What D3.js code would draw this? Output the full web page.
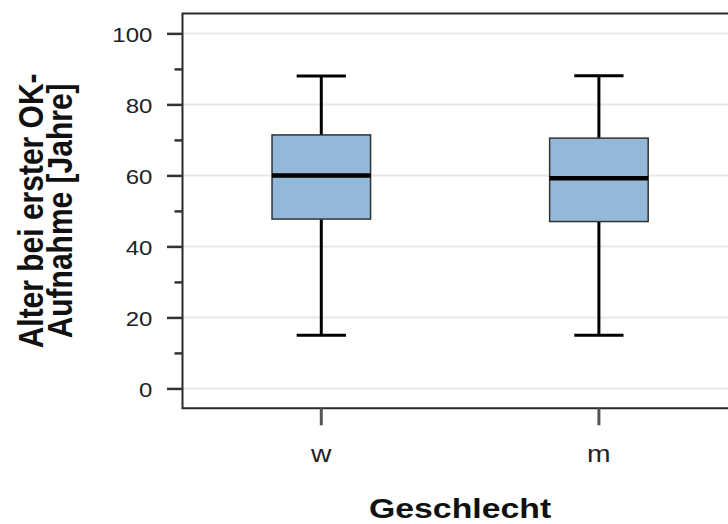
<!DOCTYPE html>
<html>
<head>
<meta charset="utf-8">
<script src="https://cdn.jsdelivr.net/npm/d3@7"></script>
<style>
  html, body { margin: 0; padding: 0; background: #fff; }
  svg { display: block; }
</style>
</head>
<body>
<svg id="chart" width="728" height="524"></svg>
<script>
// ---- data ----
const categories = ["w", "m"];
const whiskerLow = [15.0, 15.0];
const q1 = [47.7, 47.0];
const median = [60.0, 59.2];
const q3 = [71.4, 70.5];
const whiskerHigh = [88.0, 88.1];
const yTicks = [0, 20, 40, 60, 80, 100];
const yMinorTicks = [10, 30, 50, 70, 90];
const xTitle = "Geschlecht";
const yTitleLines = ["Alter bei erster OK-", "Aufnahme [Jahre]"];

(function () {
// ---- layout ----
const SX = 1.23; // horizontal stretch of glyphs
const pLeft = 182.5, pRight = 737.7, pTop = 13.5, pBottom = 408.3;
const svg = d3.select("#chart");

const y = d3.scaleLinear().domain([-5.6, 105.6]).range([pBottom, pTop]);
const x = d3.scaleBand().domain(categories).range([pLeft, pRight]).padding(0);

// gridlines
svg.append("g").selectAll("line").data(yTicks).join("line")
  .attr("x1", pLeft).attr("x2", 728)
  .attr("y1", d => y(d)).attr("y2", d => y(d))
  .attr("stroke", "#e8e8e8").attr("stroke-width", 2);

// boxes
const data = categories.map((c, i) => ({
  c, lo: whiskerLow[i], q1: q1[i], med: median[i], q3: q3[i], hi: whiskerHigh[i]
}));
const bw = x.bandwidth() * 0.355;
const cw = bw * 0.5;
const g = svg.append("g").selectAll("g").data(data).join("g")
  .attr("transform", d => `translate(${x(d.c) + x.bandwidth() / 2},0)`);

g.append("line").attr("x1", 0).attr("x2", 0)
  .attr("y1", d => y(d.hi)).attr("y2", d => y(d.q3))
  .attr("stroke", "#000").attr("stroke-width", 3);
g.append("line").attr("x1", 0).attr("x2", 0)
  .attr("y1", d => y(d.q1)).attr("y2", d => y(d.lo))
  .attr("stroke", "#000").attr("stroke-width", 3);
g.append("line").attr("x1", -cw / 2).attr("x2", cw / 2)
  .attr("y1", d => y(d.hi)).attr("y2", d => y(d.hi))
  .attr("stroke", "#000").attr("stroke-width", 3);
g.append("line").attr("x1", -cw / 2).attr("x2", cw / 2)
  .attr("y1", d => y(d.lo)).attr("y2", d => y(d.lo))
  .attr("stroke", "#000").attr("stroke-width", 3);
g.append("rect")
  .attr("x", -bw / 2).attr("width", bw)
  .attr("y", d => y(d.q3)).attr("height", d => y(d.q1) - y(d.q3))
  .attr("fill", "#94b8da").attr("stroke", "#333").attr("stroke-width", 1.5);
g.append("line").attr("x1", -bw / 2).attr("x2", bw / 2)
  .attr("y1", d => y(d.med)).attr("y2", d => y(d.med))
  .attr("stroke", "#000").attr("stroke-width", 4.5);

// frame
svg.append("path")
  .attr("d", `M${pRight},${pTop}H${pLeft}V${pBottom}H${pRight}`)
  .attr("fill", "none").attr("stroke", "#2a2a2a").attr("stroke-width", 2);

// y axis
const yAxis = svg.append("g").attr("transform", `translate(${pLeft},0)`)
  .call(d3.axisLeft(y).tickValues(yTicks).tickSize(15.5).tickFormat(d3.format("d")));
yAxis.select(".domain").remove();
yAxis.selectAll(".tick line").attr("stroke", "#333").attr("stroke-width", 2.5);
yAxis.selectAll(".tick text")
  .attr("x", -30.2 / SX).attr("dy", 8).attr("transform", `scale(${SX},1)`)
  .attr("font-family", "'Liberation Sans', Arial, sans-serif")
  .attr("font-size", 19.5).attr("fill", "#222");
const yMinor = svg.append("g").attr("transform", `translate(${pLeft},0)`)
  .call(d3.axisLeft(y).tickValues(yMinorTicks).tickSize(8).tickFormat(""));
yMinor.select(".domain").remove();
yMinor.selectAll(".tick line").attr("stroke", "#333").attr("stroke-width", 2.5);

// x axis
const xAxis = svg.append("g").attr("transform", `translate(0,${pBottom})`)
  .call(d3.axisBottom(x).tickSize(17).tickPadding(0));
xAxis.select(".domain").remove();
xAxis.selectAll(".tick line").attr("stroke", "#555").attr("stroke-width", 3);
xAxis.selectAll(".tick text")
  .attr("y", 53.4).attr("dy", 0).attr("transform", `scale(${SX},1)`)
  .attr("font-family", "'Liberation Sans', Arial, sans-serif")
  .attr("font-size", 23).attr("fill", "#222");

// titles
svg.append("text")
  .attr("transform", `translate(${(pLeft + pRight) / 2},518) scale(${SX},1)`)
  .attr("text-anchor", "middle")
  .attr("font-family", "'Liberation Sans', Arial, sans-serif")
  .attr("font-weight", "bold").attr("font-size", 27.5).attr("fill", "#111")
  .text(xTitle);

const yCenter = (pTop + pBottom) / 2;
[42.7, 71.7].forEach((bx, i) => {
  svg.append("text")
    .attr("transform", `translate(${bx},${yCenter}) scale(1.16,1) rotate(-90)`)
    .attr("text-anchor", "middle")
    .attr("font-family", "'Liberation Sans', Arial, sans-serif")
    .attr("font-weight", "bold").attr("font-size", 30).attr("fill", "#111")
    .text(yTitleLines[i]);
});
})();
</script>
</body>
</html>
